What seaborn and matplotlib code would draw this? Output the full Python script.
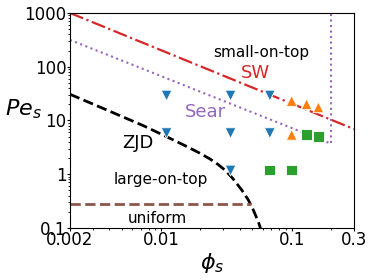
import pandas as pd
import numpy as np
import seaborn as sns
import matplotlib.pyplot as plt
from matplotlib.ticker import NullFormatter

# simulation points
phi_blue = [0.011, 0.034, 0.068, 0.011, 0.034, 0.068, 0.034]
pe_blue = [29, 29, 29, 5.8, 5.8, 5.8, 1.17]
phi_orange = [0.1, 0.13, 0.16, 0.1]
pe_orange = [23, 20, 17.5, 5.4]
phi_green = [0.13, 0.16, 0.068, 0.1]
pe_green = [5.5, 5.1, 1.2, 1.2]

# boundary curves
sw_phi = [0.002, 0.3]
sw_pe = [1000, 6.9]
sear_phi = [0.002, 0.2, 0.2]
sear_pe = [315, 3.7, 1000]
zjd_phi = [0.002, 0.00384, 0.00729, 0.01069, 0.01568, 0.01982, 0.02364, 0.02723,
           0.03135, 0.03548, 0.04136, 0.04648, 0.05077, 0.05545, 0.05765]
zjd_pe = [30.7, 15.6, 8.0, 5.15, 3.28, 2.45, 1.92, 1.52,
          1.15, 0.823, 0.51, 0.332, 0.216, 0.131, 0.0988]
uni_phi = [0.002, 0.049]
uni_pe = [0.28, 0.28]

xticks = [0.002, 0.01, 0.1, 0.3]
xticklabels = ['0.002', '0.01', '0.1', '0.3']
yticks = [0.1, 1, 10, 100, 1000]
yticklabels = ['0.1', '1', '10', '100', '1000']

df = pd.DataFrame({
    'phi': phi_blue + phi_orange + phi_green,
    'Pe': pe_blue + pe_orange + pe_green,
    'kind': ['blue'] * len(phi_blue) + ['orange'] * len(phi_orange) + ['green'] * len(phi_green),
})

plt.rcParams['font.family'] = ['DejaVu Sans']

fig = plt.figure(figsize=(3.74, 2.8), dpi=100)
ax = fig.add_axes([0.187, 0.186, 0.7595, 0.7678])

ax.plot(sw_phi, sw_pe, color='tab:red', ls='-.', lw=1.6)
ax.plot(sear_phi, sear_pe, color='tab:purple', ls=':', lw=1.5)
ax.plot(zjd_phi, zjd_pe, color='black', ls='--', lw=2)
ax.plot(uni_phi, uni_pe, color='tab:brown', ls='--', lw=2)

sns.scatterplot(data=df, x='phi', y='Pe', hue='kind', style='kind',
                palette={'blue': 'tab:blue', 'orange': 'tab:orange', 'green': 'tab:green'},
                markers={'blue': 'v', 'orange': '^', 'green': 's'},
                s=60, legend=False, ax=ax, zorder=3)

ax.set_xscale('log')
ax.set_yscale('log')
ax.set_xlim(0.002, 0.3)
ax.set_ylim(0.1, 1000)
ax.set_xticks(xticks)
ax.set_xticklabels(xticklabels)
ax.set_yticks(yticks)
ax.set_yticklabels(yticklabels)
ax.xaxis.set_minor_formatter(NullFormatter())
ax.yaxis.set_minor_formatter(NullFormatter())
ax.tick_params(which='major', labelsize=12, length=2, pad=0.5)
ax.tick_params(which='minor', length=1.5)

ax.set_xlabel(r'$\phi_s$', fontsize=16, va='center')
ax.xaxis.set_label_coords(0.5, -0.163)
ax.set_ylabel(r'$Pe_s$', fontsize=16, rotation=0, va='center', ha='center')
ax.yaxis.set_label_coords(-0.162, 0.553)

ax.text(0.058, 180, 'small-on-top', fontsize=11, ha='center', va='center')
ax.text(0.0528, 76, 'SW', fontsize=13, color='tab:red', ha='center', va='center')
ax.text(0.0217, 14.5, 'Sear', fontsize=13, color='tab:purple', ha='center', va='center')
ax.text(0.00658, 3.8, 'ZJD', fontsize=13, ha='center', va='center')
ax.text(0.00993, 0.78, 'large-on-top', fontsize=11, ha='center', va='center')
ax.text(0.00937, 0.15, 'uniform', fontsize=11, ha='center', va='center')

fig.savefig('out.png', dpi=100)
